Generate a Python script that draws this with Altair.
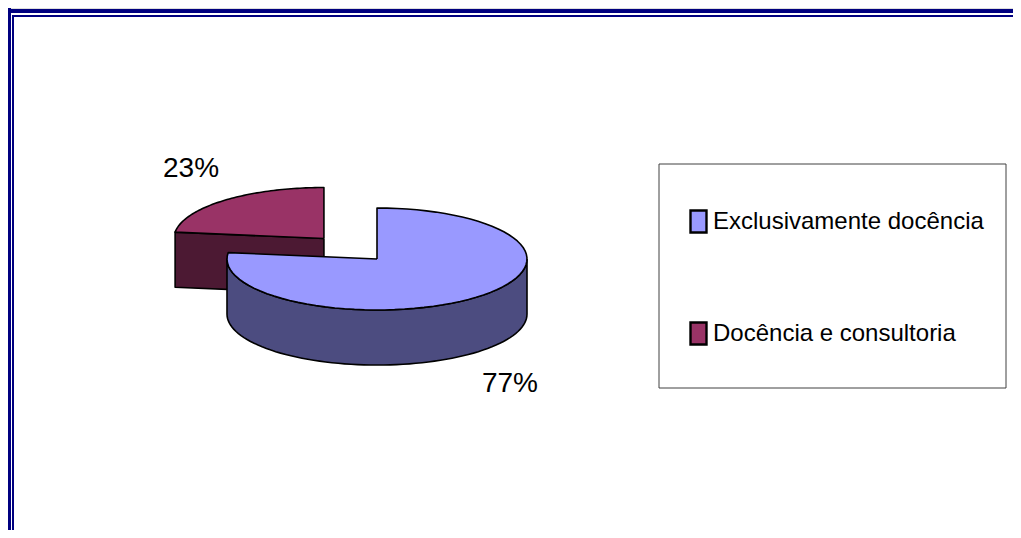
import altair as alt
import pandas as pd

# ---- data ----
categories = ["Exclusivamente docência", "Docência e consultoria"]
values = [77, 23]
top_colors = ["#9999FF", "#993366"]
side_colors = ["#4C4C80", "#4C1933"]
exploded = "Docência e consultoria"

df = pd.DataFrame({"categoria": categories, "valor": values,
                   "ordem": list(range(len(categories)))})

# ---- geometry (ellipse units) ----
RX, RY, DEPTH = 1.0, 0.34, 0.367
EXPLODE = 0.535
N = 72
W, H = 1005, 522
FONT = "Liberation Sans, Arial, sans-serif"

xs = alt.Scale(domain=[-2.46, 4.24], nice=False, zero=False)
ys = alt.Scale(domain=[-1.8067, 1.6733], nice=False, zero=False)
X = alt.X("px:Q", scale=xs, axis=None)
Y = alt.Y("py:Q", scale=ys, axis=None)
color_scale = alt.Scale(domain=categories, range=top_colors)

base = (
    alt.Chart(df)
    .transform_joinaggregate(total="sum(valor)")
    .transform_window(cum="sum(valor)", sort=[alt.SortField("ordem")], frame=[None, 0])
    .transform_calculate(a0="2*PI*(datum.cum - datum.valor)/datum.total")
    .transform_calculate(a1="2*PI*datum.cum/datum.total")
    .transform_calculate(mid="(datum.a0 + datum.a1)/2")
    .transform_calculate(ex=f"datum.categoria == '{exploded}' ? {EXPLODE} : 0")
    .transform_calculate(cx=f"datum.ex*sin(datum.mid)*{RX}")
    .transform_calculate(cy=f"datum.ex*cos(datum.mid)*{RY}")
)

line_kw = dict(stroke="black", strokeWidth=1.6, strokeJoin="round")


def top_face(cat, legend):
    return (
        base.transform_filter(alt.datum.categoria == cat)
        .transform_calculate(s=f"sequence(-1, {N + 2})")
        .transform_flatten(["s"])
        .transform_calculate(rim=f"datum.s >= 0 && datum.s <= {N}")
        .transform_calculate(th=f"datum.a0 + clamp(datum.s, 0, {N})/{N}*(datum.a1 - datum.a0)")
        .transform_calculate(px=f"datum.cx + (datum.rim ? sin(datum.th)*{RX} : 0)")
        .transform_calculate(py=f"datum.cy + (datum.rim ? cos(datum.th)*{RY} : 0)")
        .mark_line(filled=True, **line_kw)
        .encode(x=X, y=Y, order=alt.Order("s:Q"),
                color=alt.Color("categoria:N", scale=color_scale, legend=legend))
    )


def rim_side(cat, fill):
    return (
        base.transform_filter(alt.datum.categoria == cat)
        .transform_calculate(s0="max(datum.a0, PI/2)")
        .transform_calculate(s1="min(datum.a1, 3*PI/2)")
        .transform_filter("datum.s1 > datum.s0")
        .transform_calculate(s=f"sequence(0, {2 * N + 3})")
        .transform_flatten(["s"])
        .transform_calculate(k=f"datum.s <= {N} ? datum.s : (datum.s <= {2 * N + 1} ? {2 * N + 1} - datum.s : 0)")
        .transform_calculate(low=f"datum.s > {N} && datum.s <= {2 * N + 1}")
        .transform_calculate(th=f"datum.s0 + datum.k/{N}*(datum.s1 - datum.s0)")
        .transform_calculate(px=f"datum.cx + sin(datum.th)*{RX}")
        .transform_calculate(py=f"datum.cy + cos(datum.th)*{RY} - (datum.low ? {DEPTH} : 0)")
        .mark_line(fill=fill, **line_kw)
        .encode(x=X, y=Y, order=alt.Order("s:Q"))
    )


def radial_side(cat, fill, edge, cond):
    return (
        base.transform_filter(alt.datum.categoria == cat)
        .transform_calculate(e=f"datum.{edge}")
        .transform_filter(cond)
        .transform_calculate(s="sequence(0, 5)")
        .transform_flatten(["s"])
        .transform_calculate(out="datum.s == 1 || datum.s == 2")
        .transform_calculate(low="datum.s == 2 || datum.s == 3")
        .transform_calculate(px=f"datum.cx + (datum.out ? sin(datum.e)*{RX} : 0)")
        .transform_calculate(py=f"datum.cy + (datum.out ? cos(datum.e)*{RY} : 0) - (datum.low ? {DEPTH} : 0)")
        .mark_line(fill=fill, **line_kw)
        .encode(x=X, y=Y, order=alt.Order("s:Q"))
    )


legend = alt.Legend(
    orient="none", legendX=678, legendY=201, title=None, padding=0,
    labelFont=FONT, labelFontSize=24, labelColor="black", labelOffset=2,
    symbolType="M-0.727,-1H0.727V1H-0.727Z", symbolSize=484,
    symbolStrokeColor="black", symbolStrokeWidth=2.4, symbolOpacity=1,
    rowPadding=79, labelLimit=400,
)

layers = []
# decorations: frame and legend box
deco = alt.Chart(pd.DataFrame({"d": [0]}))
navy = "#000080"
layers += [
    deco.mark_rule(color=navy, strokeWidth=4).encode(x=alt.value(-2), x2=alt.value(W), y=alt.value(3)),
    deco.mark_rule(color=navy, strokeWidth=2).encode(x=alt.value(4), x2=alt.value(W), y=alt.value(8)),
    deco.mark_rule(color=navy, strokeWidth=5).encode(y=alt.value(-2), y2=alt.value(H), x=alt.value(0.5)),
    deco.mark_rule(color=navy, strokeWidth=2).encode(y=alt.value(7), y2=alt.value(H), x=alt.value(5)),
    deco.mark_rect(fill="white", stroke="#404040", strokeWidth=1).encode(
        x=alt.value(651), x2=alt.value(998), y=alt.value(156), y2=alt.value(380)),
]

# draw back slice first (exploded one), then front
draw_order = [1, 0]
for i in draw_order:
    cat = categories[i]
    layers.append(radial_side(cat, side_colors[i], "a0", "sin(datum.e) < -0.001"))
    layers.append(radial_side(cat, side_colors[i], "a1", "sin(datum.e) > 0.001"))
    layers.append(rim_side(cat, side_colors[i]))
    layers.append(top_face(cat, legend))

labels = (
    base.transform_calculate(px=f"datum.cx + sin(datum.mid)*{RX}*1.34")
    .transform_calculate(py=f"datum.cy + cos(datum.mid)*{RY}*1.82 - (cos(datum.mid) < 0 ? {DEPTH} : 0)")
    .transform_calculate(lbl="format(datum.valor/datum.total, '.0%')")
    .mark_text(font=FONT, fontSize=28, color="black")
    .encode(x=X, y=Y, text="lbl:N")
)
layers.append(labels)

chart = alt.layer(*layers).properties(
    width=W, height=H, padding=0, autosize=alt.AutoSizeParams(type="none")
).configure_view(stroke=None).configure(background="white")

chart.save("out.html", embed_options={"renderer": "svg", "actions": False})
